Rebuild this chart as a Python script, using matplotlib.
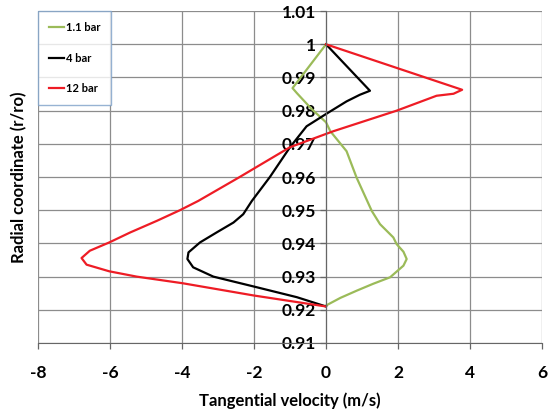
import matplotlib.pyplot as plt

# series (tangential velocity in m/s, radial coordinate r/ro)
v_1p1 = [0.0, -0.93, -0.81, -0.40, 0.0, 0.12, 0.57, 0.85, 1.27, 1.50, 1.87, 1.96, 2.15, 2.24, 2.15, 1.78, 1.30, 0.86, 0.40, 0.0]
r_1p1 = [1.0, 0.9868, 0.9853, 0.9805, 0.9765, 0.9738, 0.9678, 0.9598, 0.9498, 0.9458, 0.9418, 0.9398, 0.9375, 0.9353, 0.9333, 0.9298, 0.9278, 0.9258, 0.9236, 0.9213]

v_4 = [0.0, 1.22, 0.94, 0.57, 0.0, -0.54, -1.0, -1.56, -2.06, -2.30, -2.57, -3.04, -3.50, -3.82, -3.85, -3.69, -3.13, -2.0, -0.81, 0.0]
r_4 = [1.0, 0.986, 0.9848, 0.9828, 0.979, 0.9753, 0.969, 0.960, 0.9528, 0.9488, 0.9463, 0.9433, 0.9403, 0.9373, 0.9353, 0.9328, 0.930, 0.927, 0.9238, 0.921]

v_12 = [0.0, 3.78, 3.54, 3.07, 1.96, 0.2, -1.0, -2.4, -3.55, -4.06, -4.70, -5.44, -6.02, -6.56, -6.79, -6.65, -6.02, -5.26, -3.98, -2.0, 0.0]
r_12 = [1.0, 0.9863, 0.9851, 0.9845, 0.980, 0.9738, 0.969, 0.960, 0.9528, 0.950, 0.9468, 0.9433, 0.9403, 0.9378, 0.9356, 0.9336, 0.9316, 0.930, 0.928, 0.9243, 0.921]

x_ticks = [-8, -6, -4, -2, 0, 2, 4, 6]
x_labels = ["-8", "-6", "-4", "-2", "0", "2", "4", "6"]
y_ticks = [0.91, 0.92, 0.93, 0.94, 0.95, 0.96, 0.97, 0.98, 0.99, 1.0, 1.01]
y_labels = ["0.91", "0.92", "0.93", "0.94", "0.95", "0.96", "0.97", "0.98", "0.99", "1", "1.01"]

plt.rcParams["font.family"] = ["Lato", "DejaVu Sans"]
plt.rcParams["font.weight"] = "bold"

fig = plt.figure(figsize=(5.52, 4.12), dpi=100)
ax = fig.add_axes([0.0688, 0.1675, 0.9132, 0.8055])

ax.plot(v_1p1, r_1p1, color="#9BBB59", lw=1.6, label="1.1 bar")
ax.plot(v_4, r_4, color="black", lw=1.6, label="4 bar")
ax.plot(v_12, r_12, color="#EE1C25", lw=1.6, label="12 bar")

ax.tick_params(axis="both", colors="#666666", labelcolor="black", width=0.9)
ax.tick_params(axis="x", length=4, labelbottom=False)
ax.tick_params(axis="y", length=4, pad=3)

ax.set_xlim(-8, 6)
ax.set_ylim(0.91, 1.01)
ax.set_xticks(x_ticks)
ax.set_yticks(y_ticks)
ax.grid(True, color="#8c8c8c", lw=0.9)
ax.set_axisbelow(True)

for s in ["top", "right"]:
    ax.spines[s].set_visible(False)
ax.spines["left"].set_position(("data", 0))
ax.spines["left"].set_color("#666666")
ax.spines["bottom"].set_color("#666666")

# x tick labels as plain text so they keep the bold weight
for xv, lab in zip(x_ticks, x_labels):
    ax.text(xv, -0.09, lab, transform=ax.get_xaxis_transform(), ha="center",
            va="center", fontsize=12.5, fontweight="bold")

ax.set_xlabel("Tangential velocity (m/s)", fontsize=12, fontweight="bold")
ax.set_ylabel("Radial coordinate (r/ro)", fontsize=12, fontweight="bold")
ax.yaxis.set_label_coords(-0.022, 0.5)
ax.xaxis.set_label_coords(0.5, -0.15)

leg = ax.legend(loc="upper left", bbox_to_anchor=(0.0, 1.0),
                prop={"size": 8, "weight": "bold"},
                frameon=True, fancybox=False, handlelength=1.3, handletextpad=0.2,
                labelspacing=1.75, borderpad=1.0, borderaxespad=0.0)
leg.get_frame().set_edgecolor("#7da0c8")
leg.get_frame().set_linewidth(1.0)

ax.set_yticklabels(y_labels, fontsize=12.5, fontweight="bold")

fig.savefig("out.png", dpi=100)
